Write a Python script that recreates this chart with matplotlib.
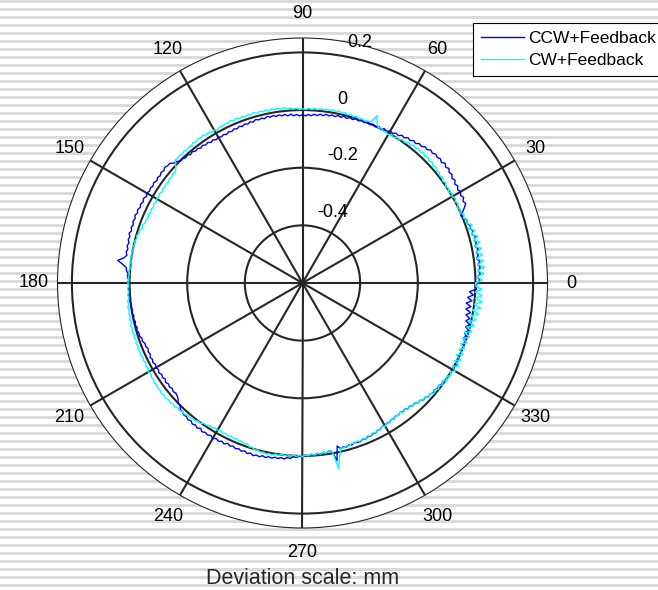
import numpy as np
import matplotlib
matplotlib.use('Agg')
import matplotlib.pyplot as plt
from matplotlib import transforms as mtransforms

plt.rcParams['font.family'] = ['Liberation Sans', 'DejaVu Sans']

# ---------------- data (deviation in micrometres, one value per degree) ----------------
angle_deg = np.arange(0, 360, 1)

ccw_um = [
    8, 15, 7, 18, 11, 19, 12, 20, 10, 17,
    13, 21, 12, 19, 14, 22, 11, 18, 12, 15,
    7, 11, 2, -3, 8, 20, 30, 25, 33, 27,
    33, 28, 35, 30, 38, 33, 41, 37, 45, 39,
    46, 38, 44, 39, 43, 37, 41, 33, 36, 28,
    31, 23, 27, 19, 23, 15, 18, 10, 13, 6,
    9, 2, 6, 0, 4, -2, 3, -3, 1, -4,
    0, -5, -1, -7, -3, -9, -4, -10, -6, -12,
    -8, -13, -9, -15, -11, -17, -13, -19, -15, -20,
    -16, -20, -15, -19, -13, -18, -12, -16, -11, -15,
    -10, -14, -9, -15, -11, -14, -10, -16, -12, -17,
    -13, -18, -14, -19, -15, -20, -16, -21, -17, -20,
    -16, -20, -14, -18, -12, -15, -10, -14, -8, -11,
    -5, -9, -3, -6, 0, -2, 7, 10, 20, 20,
    24, 19, 23, 18, 22, 17, 23, 18, 22, 19,
    24, 19, 25, 20, 25, 21, 26, 22, 27, 22,
    26, 21, 25, 20, 26, 20, 23, 18, 22, 17,
    21, 17, 26, 46, 28, 14, 12, 6, 8, 3,
    6, 1, 5, 0, 4, -1, 3, -2, 2, -3,
    1, -4, 0, -5, -1, -6, -2, -7, -5, -11,
    -9, -15, -13, -18, -14, -17, -12, -16, -12, -17,
    -13, -17, -12, -18, -14, -19, -13, -18, -14, -19,
    -14, -18, -15, -10, 0, 1, 10, 10, 16, 14,
    19, 15, 21, 17, 22, 16, 23, 18, 22, 17,
    23, 17, 22, 16, 21, 14, 19, 15, 20, 16,
    21, 16, 22, 17, 23, 18, 21, 15, 19, 14,
    17, 12, 15, 10, 14, 8, 10, 4, 6, 0,
    2, -3, 0, -5, -2, -7, -3, -8, -5, -10,
    -6, 28, -22, -10, -14, -11, -16, -13, -18, -15,
    -14, -19, -16, -21, -18, -23, -21, -27, -25, -31,
    -28, -33, -30, -35, -32, -37, -33, -38, -33, -37,
    -30, -34, -28, -30, -22, -24, -16, -18, -11, -14,
    -7, -11, -4, -9, -2, -6, 2, -3, 5, 0,
    8, 2, 6, -1, 4, -3, 3, -4, 1, -6,
    0, -10, -4, -12, 0, -14, -3, -18, -7, -22,
    -8, -26, -10, -28, -9, -25, -6, -20, 4, -2,
]

cw_um = [
    2, 24, 5, 30, 9, 34, 11, 33, 10, 32,
    11, 33, 10, 32, 12, 30, 8, 26, 5, 22,
    6, 13, 2, 9, -2, 4, -3, 6, 0, 7,
    -1, 5, -3, 4, -1, 7, 1, 9, 4, 11,
    6, 13, 8, 15, 10, 17, 11, 17, 12, 16,
    10, 15, 7, 11, 3, 7, -1, 3, -5, 0,
    -6, -1, -3, 3, 0, 12, 36, 8, 6, 2,
    6, 2, 8, 3, 9, 4, 9, 5, 10, 6,
    10, 6, 9, 5, 8, 4, 7, 3, 6, 2,
    5, 2, 7, 4, 9, 6, 11, 8, 12, 9,
    13, 9, 14, 10, 14, 10, 15, 11, 14, 10,
    15, 11, 16, 12, 17, 12, 15, 10, 13, 8,
    13, 10, 16, 13, 18, 15, 19, 14, 17, 12,
    15, 11, 15, 11, 15, 12, 14, 2, -9, -14,
    -11, -16, -13, -18, -14, -18, -15, -19, -15, -19,
    -16, -20, -16, -20, -16, -19, -15, -19, -14, -16,
    -10, -13, -6, -8, -2, -5, 0, -3, 2, -2,
    2, -2, 2, -1, 3, 0, 4, 1, 5, 2,
    6, 3, 7, 4, 8, 5, 10, 7, 12, 8,
    12, 9, 13, 9, 14, 10, 14, 10, 14, 10,
    15, 11, 16, 12, 16, 11, 14, 10, 15, 12,
    17, 13, 18, 15, 20, 17, 21, 18, 22, 18,
    21, 16, 19, 14, 17, 12, 15, 10, 13, 8,
    10, 4, 6, 0, 2, -5, -4, -10, -8, -13,
    -10, -14, -10, -14, -10, -14, -10, -14, -9, -12,
    -6, -10, -2, -4, 2, 0, 5, 2, 7, 3,
    6, 1, 4, -1, 2, -2, 2, -2, 2, -2,
    2, -3, 0, -5, -2, -7, -3, -8, -5, -10,
    -7, 55, 18, -12, -10, -15, -12, -18, -15, -20,
    -16, -21, -17, -24, -19, -26, -21, -28, -23, -31,
    -26, -33, -28, -35, -30, -37, -32, -38, -31, -36,
    -29, -34, -27, -31, -22, -25, -16, -20, -10, -14,
    -4, -10, -1, -8, 1, -6, 3, -4, 6, -2,
    12, -6, 14, -8, 10, -11, 9, -10, 7, -12,
    8, -13, 10, -12, 11, -10, 14, -8, 16, -6,
    20, -4, 24, 0, 27, 2, 25, 0, 23, 1,
]

series_labels = ['CCW+Feedback', 'CW+Feedback']
series_colors = ['#0000ff', '#00ffff']

theta_ticks = [0, 30, 60, 90, 120, 150, 180, 210, 240, 270, 300, 330]
theta_labels = ['0', '30', '60', '90', '120', '150', '180', '210', '240', '270', '300', '330']
r_ticks = [-0.4, -0.2, 0.0, 0.2]
r_tick_labels = ['-0.4', '-0.2', '0', '0.2']
r_min, r_max = -0.6, 0.25
r_label_angle = 80
x_label = 'Deviation scale: mm'

# ---------------- figure ----------------
W, H = 658, 590
fig = plt.figure(figsize=(W / 100, H / 100), dpi=100)
fig.patch.set_facecolor('white')

# striped background
bg = np.ones((H, W, 3))
rows = np.arange(H)
bg[(rows % 8) < 3] = 0.855
fig.figimage(bg, xo=0, yo=0, origin='upper', zorder=-5)

cx, cy, R = 302.5, 283.0, 245.0
ax = fig.add_axes([(cx - R) / W, (H - cy - R) / H, 2 * R / W, 2 * R / H],
                  projection='polar')
ax.set_facecolor('white')
ax.set_axisbelow(True)

theta = np.deg2rad(np.append(angle_deg, angle_deg[0]))
for vals, lab, col in zip([ccw_um, cw_um], series_labels, series_colors):
    dev_mm = np.asarray(vals, dtype=float) / 1000.0
    dev_mm = np.append(dev_mm, dev_mm[0])
    ax.plot(theta, dev_mm, color=col, linewidth=1.0, label=lab)

ax.set_ylim(r_min, r_max)
ax.set_thetagrids(theta_ticks, theta_labels, fontsize=13)
ax.set_rgrids(r_ticks, labels=[''] * len(r_ticks))
ax.grid(True, color='#262626', linewidth=1.5)
ax.tick_params(axis='x', length=0, pad=10.5, colors='black')
ax.tick_params(axis='y', length=0)
ax.spines['polar'].set_color('#262626')
ax.spines['polar'].set_linewidth(0.8)

off = mtransforms.offset_copy(ax.transData, fig=fig, x=5, y=5, units='dots')
for r, lab in zip(r_ticks, r_tick_labels):
    ax.text(np.deg2rad(r_label_angle), r, lab, transform=off,
            ha='left', va='bottom', fontsize=13, color='black')

leg = ax.legend(loc='upper left', bbox_to_anchor=(472.7 / W, 1 - 23 / H),
                bbox_transform=fig.transFigure, borderaxespad=0, fontsize=12.5,
                frameon=True, fancybox=False, framealpha=1, edgecolor='black',
                handlelength=2.5, handletextpad=0.25, labelspacing=0.42,
                borderpad=0.45)
leg.get_frame().set_linewidth(0.8)

fig.text(cx / W, 1 - 578 / H, x_label, ha='center', va='center', fontsize=15.5,
         color='#262626')

fig.savefig('out.png', dpi=100, facecolor='white')
